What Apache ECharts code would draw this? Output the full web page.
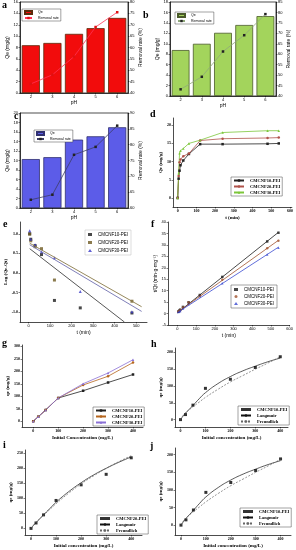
<!DOCTYPE html>
<html><head><meta charset="utf-8">
<script src="https://cdn.jsdelivr.net/npm/echarts@6/dist/echarts.min.js"></script>
<style>html,body{margin:0;padding:0;background:#fff}#c{width:296px;height:550px}</style>
</head><body><div id="c"></div>
<script>
// ---------- data ----------
const pH = ['2','3','4','5','6'];
const qeA = [8.4, 8.8, 10.4, 11.4, 13.2];
const rateA = [44, 48, 56, 69, 75.5];
const qeB = [8.8, 10.0, 12.1, 13.6, 15.3];
const rateB = [43.2, 49.2, 61.3, 69.1, 79.2];
const qeC = [10.3, 10.7, 14.4, 15.1, 17.0];
const rateC = [62.6, 64.2, 76.8, 79.3, 86];

const tD = [0, 5, 10, 15, 30, 60, 120, 240, 480, 540];
const qD10 = [0, 5.3, 7.5, 9.0, 10.3, 12.1, 14.8, 14.8, 14.9, 15.0];
const qD20 = [0, 6.0, 9.8, 10.6, 11.5, 12.2, 15.8, 16.3, 16.5, 16.6];
const qD30 = [0, 6.8, 12.3, 13.0, 13.6, 15.0, 15.9, 18.0, 18.5, 18.5];

const tE = [5, 10, 30, 60, 120, 240, 480];
const logE10 = [1.0, 0.86, 0.70, 0.47, -0.70, -0.89, -1.02];
const logE20 = [0.99, 0.82, 0.67, 0.62, -0.18, null, -0.72];
const logE30 = [1.08, 0.86, 0.72, 0.54, 0.39, -0.47, -0.99];
const fitE10 = [[5, 0.62], [445, -1.25]];
const fitE20 = [[5, 0.76], [525, -0.86]];
const fitE30 = [[5, 0.72], [525, -0.98]];

const tF = [5, 10, 15, 30, 60, 120, 240, 480, 540];
const f10 = [0.9, 1.3, 1.7, 2.9, 4.9, 8.1, 16.0, 31.5, 35.3];
const f20 = [0.8, 1.0, 1.4, 2.6, 4.8, 7.8, 14.8, 28.5, 31.8];
const f30 = [0.7, 0.8, 1.1, 2.2, 4.2, 7.6, 13.2, 25.8, 28.8];
const fitF10 = [[0, 0.3], [540, 35.5]];
const fitF20 = [[0, 0.5], [540, 32.0]];
const fitF30 = [[0, 0.4], [540, 29.0]];

const cG = [0, 20, 50, 100, 200, 300, 400];
const g10 = [0, 18, 45, 93, 122, 155, 187];
const g20 = [0, 18, 45, 93, 145, 180, 235];
const g30 = [0, 18, 45, 93, 150, 193, 246];

const cFit = [0, 10, 20, 50, 75, 100, 150, 200, 250, 300, 350, 400];
const qH = [0, 15, 43, 93, 120, 155, 187];
const langH = [0, 10, 19, 42, 62, 80, 107, 128, 145, 159, 172, 183];
const freuH = [0, 12, 20, 38, 52, 66, 90, 112, 131, 150, 168, 187];
const qI = [0, 18, 45, 93, 145, 180, 235];
const langI = [0, 10, 19, 45, 66, 87, 122, 152, 178, 200, 220, 238];
const freuI = [0, 11, 20, 44, 63, 82, 117, 148, 175, 200, 222, 242];
const qJ = [0, 15, 43, 93, 121, 155, 188];
const langJ = [0, 10, 19, 42, 62, 80, 107, 128, 145, 159, 172, 183];
const freuJ = [0, 12, 20, 38, 52, 66, 90, 112, 131, 150, 168, 187];

const tick0_600 = [0, 100, 200, 300, 400, 500, 600];
const tick0_500 = [0, 100, 200, 300, 400, 500];
const tick0_400 = [0, 100, 200, 300, 400];
const tickD_y = [0, 5, 10, 15, 20];
const tickE_y = [-1, -0.5, 0, 0.5, 1];
const tickG_y = [0, 50, 100, 150, 200, 250, 300];
const tickH_y = [0, 50, 100, 150, 200];
const tickI_y = [0, 50, 100, 150, 200, 250];

// ---------- helpers ----------
const SANS = "'Liberation Sans', Arial, sans-serif";
const SERIF = "'Liberation Serif', 'Times New Roman', serif";
const grids = [], xAxes = [], yAxes = [], series = [], legends = [], graphics = [];

function merge(a, b) {
  const o = Array.isArray(a) ? a.slice() : Object.assign({}, a);
  for (const k in b) {
    if (b[k] && typeof b[k] === 'object' && !Array.isArray(b[k]) && a[k] && typeof a[k] === 'object') o[k] = merge(a[k], b[k]);
    else o[k] = b[k];
  }
  return o;
}
function axisBase(font, bold) {
  return {
    nameLocation: 'middle',
    axisLine: { show: true, onZero: false, lineStyle: { color: '#000', width: 0.7 } },
    axisTick: { show: true, length: 1.5, lineStyle: { color: '#000', width: 0.5 } },
    axisLabel: { fontSize: 4, color: '#000', fontFamily: font, fontWeight: bold ? 'bold' : 'normal', margin: 2 },
    splitLine: { show: false },
    nameTextStyle: { fontSize: 5, color: '#000', fontFamily: font, fontWeight: bold ? 'bold' : 'normal' }
  };
}
function addGrid(l, t, w, h, border) {
  grids.push({ left: l, top: t, width: w, height: h, show: !!border, borderColor: '#000', borderWidth: 0.7, backgroundColor: 'transparent' });
  return grids.length - 1;
}
function addX(g, o, font, bold) { xAxes.push(merge(merge(axisBase(font, bold), { gridIndex: g }), o)); return xAxes.length - 1; }
function addY(g, o, font, bold) { yAxes.push(merge(merge(axisBase(font, bold), { gridIndex: g }), o)); return yAxes.length - 1; }
function pairs(xs, ys) { return xs.map((x, i) => [x, ys[i] == null ? '-' : ys[i]]); }
function letter(txt, x, y) {
  graphics.push({ type: 'text', left: x, top: y, style: { text: txt, font: "bold 10px 'Liberation Serif', serif", fill: '#000' } });
}
function legendBox(names, left, top, font, bold, extra) {
  legends.push(merge({
    data: names, left: left, top: top, orient: 'vertical', itemGap: 1, itemWidth: 10, itemHeight: 3,
    padding: [1, 2, 1, 2], borderColor: '#444', borderWidth: 0.5, backgroundColor: '#fff',
    selectedMode: false,
    formatter: n => n.split('|')[1],
    textStyle: { fontSize: 4.5, color: '#000', fontFamily: font, fontWeight: bold ? 'bold' : 'normal', padding: [0, 0, 0, 1] }
  }, extra || {}));
}

// ---------- bar panels a,b,c ----------
function barPanel(p, box, qe, rate, lmax, rmin, rmax, barColor, barBorder, lineColor, symColor, legPos) {
  const g = addGrid(box[0], box[1], box[2], box[3], true);
  const x = addX(g, { type: 'category', data: pH, name: 'pH', nameGap: 7, axisTick: { alignWithLabel: true } }, SANS, false);
  const yl = addY(g, { type: 'value', min: 0, max: lmax, interval: 2, name: 'Qe (mg/g)', nameGap: 9 }, SANS, false);
  const yr = addY(g, { type: 'value', position: 'right', min: rmin, max: rmax, interval: 5, name: 'Removal rate (%)', nameGap: 9 }, SANS, false);
  series.push({ name: p + '|Qe', type: 'bar', xAxisIndex: x, yAxisIndex: yl, data: qe, barCategoryGap: '16%',
    itemStyle: { color: barColor, borderColor: barBorder, borderWidth: 0.8 } });
  series.push({ name: p + '|Removal rate', type: 'line', xAxisIndex: x, yAxisIndex: yr, data: rate,
    symbol: 'rect', symbolSize: 2.5, lineStyle: { color: lineColor, width: 0.8 }, itemStyle: { color: symColor } });
  legendBox([{ name: p + '|Qe', icon: 'rect' }, p + '|Removal rate'], legPos[0], legPos[1], SANS, false,
    { itemWidth: 7, itemHeight: 3, textStyle: { fontSize: 3.5 } });
}
barPanel('a', [20, 2, 108, 91], qeA, rateA, 16, 40, 80, '#f20c0c', '#5a2a0a', '#ff3355', '#e01010', [22, 9]);
barPanel('b', [170, 2, 106, 94], qeB, rateB, 18, 40, 85, '#a3d45c', '#4a5a2a', '#8fa87a', '#222', [175, 12]);
barPanel('c', [20, 113, 108, 95], qeC, rateC, 20, 60, 90, '#5c5ce8', '#303070', '#3c3c66', '#222', [34, 130]);

// ---------- panel d ----------
(function () {
  const g = addGrid(173, 118, 120, 89);
  const x = addX(g, { type: 'value', min: -25, max: 610, name: 't (min)', nameGap: 8,
    axisLabel: { customValues: tick0_600 }, axisTick: { customValues: tick0_600 } }, SERIF, true);
  const y = addY(g, { type: 'value', min: -2.5, max: 22, name: 'Qe (mg/g)', nameGap: 9,
    axisLabel: { customValues: tickD_y }, axisTick: { customValues: tickD_y } }, SERIF, true);
  const sets = [['d|CMCNF10-PEI', qD10, '#222222', 'rect'], ['d|CMCNF20-PEI', qD20, '#b0524a', 'circle'], ['d|CMCNF30-PEI', qD30, '#7cc63a', 'triangle']];
  sets.forEach(s => series.push({ name: s[0], type: 'line', xAxisIndex: x, yAxisIndex: y, data: pairs(tD, s[1]),
    symbol: s[3], symbolSize: 2.5, lineStyle: { color: s[2], width: 0.8 }, itemStyle: { color: s[2] } }));
  legendBox(sets.map(s => s[0]), 231, 177, SERIF, true);
})();

// ---------- panel e ----------
(function () {
  const g = addGrid(20, 222, 127, 100);
  const x = addX(g, { type: 'value', min: -40, max: 550, name: 't (min)', nameGap: 8,
    axisLabel: { customValues: tick0_500 }, axisTick: { customValues: tick0_500 } }, SANS, false);
  const y = addY(g, { type: 'value', min: -1.25, max: 1.3, name: 'Log (Qe-Qt)', nameGap: 11,
    axisLabel: { customValues: tickE_y, formatter: v => v.toFixed(1) }, axisTick: { customValues: tickE_y } }, SERIF, true);
  const sets = [['e|CMCNF10-PEI', logE10, fitE10, '#1a1a1a', '#444444', 'rect'],
    ['e|CMCNF20-PEI', logE20, fitE20, '#6e5a22', '#8a7a4a', 'rect'],
    ['e|CMCNF30-PEI', logE30, fitE30, '#3a3ac8', '#7070b0', 'triangle']];
  sets.forEach(s => {
    series.push({ name: s[0], type: 'scatter', xAxisIndex: x, yAxisIndex: y, data: pairs(tE, s[1]), symbol: s[5], symbolSize: 3, itemStyle: { color: s[3] } });
    series.push({ name: 'fit|' + s[0], type: 'line', xAxisIndex: x, yAxisIndex: y, data: s[2], symbol: 'none', lineStyle: { color: s[4], width: 0.9 }, clip: true });
  });
  legendBox(sets.map(s => s[0]), 85, 230, SANS, false, { itemWidth: 4, itemHeight: 3, borderColor: '#bbb', itemGap: 3, padding: [2, 3, 2, 3], textStyle: { fontSize: 4.5 } });
})();

// ---------- panel f ----------
(function () {
  const g = addGrid(168, 222, 122, 103);
  const x = addX(g, { type: 'value', min: -50, max: 600, name: 't (min)', nameGap: 8,
    axisLabel: { customValues: tick0_600 }, axisTick: { customValues: tick0_600 } }, SANS, false);
  const y = addY(g, { type: 'value', min: -5, max: 40, interval: 5, name: 't/Qt (min·g·mg⁻¹)', nameGap: 8 }, SANS, false);
  const sets = [['f|CMCNF10-PEI', f10, fitF10, '#1a1a1a', 'rect'],
    ['f|CMCNF20-PEI', f20, fitF20, '#a0522d', 'circle'],
    ['f|CMCNF30-PEI', f30, fitF30, '#3a4ad0', 'triangle']];
  sets.forEach(s => {
    series.push({ name: s[0], type: 'scatter', xAxisIndex: x, yAxisIndex: y, data: pairs(tF, s[1]), symbol: s[4], symbolSize: 2.5, itemStyle: { color: s[3] } });
    series.push({ name: 'fit|' + s[0], type: 'line', xAxisIndex: x, yAxisIndex: y, data: s[2], symbol: 'none', lineStyle: { color: s[3], width: 0.8 } });
  });
  legendBox(sets.map(s => s[0]), 231, 285, SANS, false, { itemWidth: 4, itemHeight: 3, itemGap: 2, padding: [2, 3, 2, 3], textStyle: { fontSize: 4.5 } });
})();

// ---------- panel g ----------
(function () {
  const g = addGrid(22, 345, 121, 82);
  const x = addX(g, { type: 'value', min: -45, max: 440, name: 'Initial Concentration (mg/L)', nameGap: 8,
    axisLabel: { customValues: tick0_400 }, axisTick: { customValues: tick0_400 } }, SERIF, true);
  const y = addY(g, { type: 'value', min: -23, max: 305, name: 'qe (mg/g)', nameGap: 10,
    axisLabel: { customValues: tickG_y }, axisTick: { customValues: tickG_y } }, SERIF, true);
  const sets = [['g|CMCNF10-PEI', g10, '#222222', 'rect'], ['g|CMCNF20-PEI', g20, '#b5651d', 'circle'], ['g|CMCNF30-PEI', g30, '#8a70d6', 'triangle']];
  sets.forEach(s => series.push({ name: s[0], type: 'line', xAxisIndex: x, yAxisIndex: y, data: pairs(cG, s[1]),
    symbol: s[3], symbolSize: 2.5, lineStyle: { color: s[2], width: 0.8 }, itemStyle: { color: s[2] } }));
  legendBox(sets.map(s => s[0]), 93, 407, SERIF, true);
})();

// ---------- isotherm panels h,i,j ----------
function isoPanel(p, box, xr, yr, yTicks, pts, lang, freu, label, legPos) {
  const g = addGrid(box[0], box[1], box[2], box[3]);
  const x = addX(g, { type: 'value', min: xr[0], max: xr[1], name: 'Initial concentration (mg/L)', nameGap: 8,
    axisLabel: { customValues: tick0_400 }, axisTick: { customValues: tick0_400 } }, SERIF, true);
  const y = addY(g, { type: 'value', min: yr[0], max: yr[1], name: 'qe (mg/g)', nameGap: 10,
    axisLabel: { customValues: yTicks }, axisTick: { customValues: yTicks } }, SERIF, true);
  series.push({ name: p + '|' + label, type: 'scatter', xAxisIndex: x, yAxisIndex: y, data: pairs(cG, pts), symbol: 'rect', symbolSize: 3, itemStyle: { color: '#000' } });
  series.push({ name: p + '|Langmuir', type: 'line', xAxisIndex: x, yAxisIndex: y, data: pairs(cFit, lang), symbol: 'none', smooth: true, lineStyle: { color: '#111', width: 0.7 }, itemStyle: { color: '#111' } });
  series.push({ name: p + '|Freundlich', type: 'line', xAxisIndex: x, yAxisIndex: y, data: pairs(cFit, freu), symbol: 'none', smooth: true, lineStyle: { color: '#666', width: 0.7, type: [2, 1.5] }, itemStyle: { color: '#666' } });
  legendBox([p + '|' + label, p + '|Langmuir', p + '|Freundlich'], legPos[0], legPos[1], SERIF, true);
}
isoPanel('h', [175, 348, 113, 79], [-22, 431], [-22, 213], tickH_y, qH, langH, freuH, 'CMCNF10-PEI', [238, 406]);
isoPanel('i', [25, 450, 117, 85], [-24, 443], [-22, 261], tickI_y, qI, langI, freuI, 'CMCNF20-PEI', [97, 515]);
isoPanel('j', [175, 448, 116, 87], [-24, 442], [-28, 219], tickH_y, qJ, langJ, freuJ, 'CMCNF10-PEI', [240, 508]);

letter('a', 2, 0); letter('b', 143, 10); letter('c', 14, 111); letter('d', 150, 109);
letter('e', 3, 219); letter('f', 151, 219); letter('g', 2, 338); letter('h', 151, 339);
letter('i', 3, 440); letter('j', 150, 441);

const chart = echarts.init(document.getElementById('c'), null, { renderer: 'canvas' });
chart.setOption({
  animation: false,
  backgroundColor: '#fff',
  grid: grids, xAxis: xAxes, yAxis: yAxes, series: series, legend: legends, graphic: graphics
});
</script></body></html>
